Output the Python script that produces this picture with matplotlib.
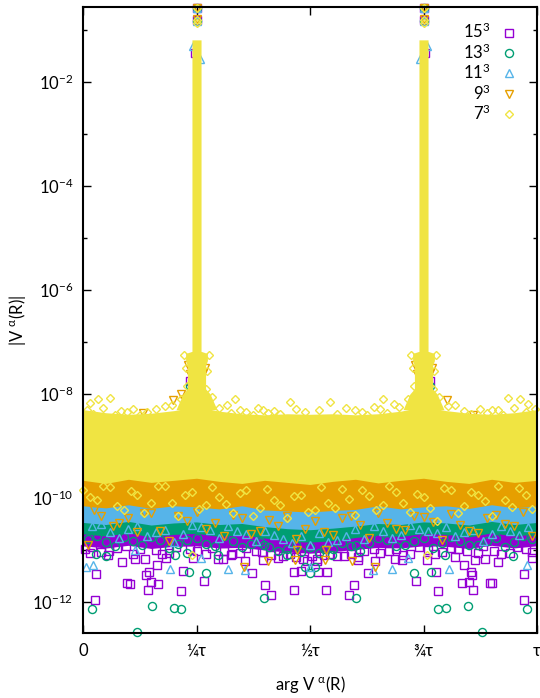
import numpy as np
import matplotlib
matplotlib.use("Agg")
import matplotlib.pyplot as plt
from matplotlib.ticker import NullFormatter

plt.rcParams["font.family"] = ["Lato", "DejaVu Sans"]
plt.rcParams["mathtext.fontset"] = "custom"
plt.rcParams["mathtext.rm"] = "Lato"
plt.rcParams["mathtext.it"] = "Lato:italic"
plt.rcParams["mathtext.bf"] = "Lato:bold"
plt.rcParams["mathtext.default"] = "regular"

TAU = 2 * np.pi

# ---- series ---------------------------------------------------------------
labels = [r"$15^3$", r"$13^3$", r"$11^3$", r"$9^3$", r"$7^3$"]
colors = ["#9400D3", "#009E73", "#56B4E9", "#E69F00", "#F0E442"]
markers = ["s", "o", "^", "v", "D"]

# dense cores (log10 |V|), sampled along arg V in turns
core_turns = [0.00, 0.05, 0.10, 0.15, 0.20, 0.25, 0.30, 0.35, 0.40, 0.45, 0.50,
              0.55, 0.60, 0.65, 0.70, 0.75, 0.80, 0.85, 0.90, 0.95, 1.00]
core_lo_15 = [-10.92, -10.96, -10.91, -10.97, -10.93, -10.92, -10.96, -10.95, -11.00, -11.04, -11.06,
              -11.03, -10.99, -10.95, -10.96, -10.92, -10.93, -10.97, -10.91, -10.96, -10.92]
core_lo_13 = [-10.69, -10.73, -10.67, -10.75, -10.70, -10.68, -10.74, -10.71, -10.77, -10.83, -10.85,
              -10.82, -10.76, -10.71, -10.74, -10.68, -10.70, -10.75, -10.67, -10.73, -10.69]
core_lo_11 = [-10.47, -10.51, -10.45, -10.52, -10.48, -10.46, -10.51, -10.49, -10.55, -10.59, -10.61,
              -10.58, -10.54, -10.49, -10.51, -10.46, -10.48, -10.52, -10.45, -10.51, -10.47]
core_lo_9 = [-10.15, -10.19, -10.13, -10.20, -10.15, -10.17, -10.21, -10.15, -10.23, -10.25, -10.27,
             -10.24, -10.22, -10.15, -10.21, -10.17, -10.15, -10.20, -10.13, -10.19, -10.15]
core_lo_7 = [-9.66, -9.72, -9.64, -9.70, -9.66, -9.62, -9.68, -9.72, -9.66, -9.70, -9.74,
             -9.68, -9.64, -9.71, -9.66, -9.62, -9.68, -9.72, -9.64, -9.70, -9.66]
core_hi_15 = -10.55
core_hi_13 = -10.30
core_hi_11 = -9.95
core_hi_9 = -9.40
core_hi_7 = [-8.30, -8.36, -8.39, -8.37, -8.32, -8.24, -8.33, -8.38, -8.40, -8.38, -8.39,
             -8.38, -8.40, -8.38, -8.33, -8.24, -8.32, -8.37, -8.39, -8.36, -8.30]

# peak columns at 1/4 and 3/4 turn (7^3 on top)
spike_centers = [0.25, 0.75]
spike_logv = [-1.19, -7.18, -7.22, -7.36, -7.45, -7.90, -8.00, -8.30]
spike_halfwidth = [0.010, 0.010, 0.024, 0.024, 0.020, 0.020, 0.030, 0.045]

# individual points: arg V in turns, log10 |V|
pts_turns_15 = [0.015, 0.027, 0.029, 0.055, 0.086, 0.098, 0.103, 0.114, 0.136, 0.139, 0.143, 0.145,
                0.149, 0.162, 0.165, 0.182, 0.215, 0.220, 0.242, 0.266, 0.297, 0.308, 0.328, 0.357,
                0.372, 0.397, 0.401, 0.413, 0.465, 0.465, 0.480, 0.493, 0.515, 0.518, 0.535, 0.537,
                0.586, 0.598, 0.606, 0.628, 0.643, 0.687, 0.702, 0.733, 0.757, 0.778, 0.783, 0.819,
                0.834, 0.839, 0.850, 0.855, 0.857, 0.858, 0.863, 0.885, 0.896, 0.901, 0.915, 0.972,
                0.972, 0.988,
                0.005, 0.040, 0.075, 0.110, 0.160, 0.190, 0.235, 0.270, 0.310, 0.345, 0.380, 0.415,
                0.440, 0.470, 0.505, 0.530, 0.560, 0.590, 0.620, 0.655, 0.690, 0.720, 0.760, 0.790,
                0.825, 0.870, 0.905, 0.940, 0.975,
                0.020, 0.058, 0.095, 0.125, 0.175, 0.205, 0.250, 0.285, 0.325, 0.360, 0.395, 0.430,
                0.455, 0.485, 0.515, 0.545, 0.575, 0.605, 0.640, 0.675, 0.705, 0.740, 0.775, 0.810,
                0.845, 0.880, 0.920, 0.955, 0.990,
                0.250, 0.250, 0.247, 0.236, 0.750, 0.750, 0.753, 0.764]
pts_logv_15 = [-11.06, -11.97, -11.47, -11.10, -11.24, -11.64, -11.65, -11.18, -11.18, -11.48, -11.76, -11.42,
               -11.61, -11.28, -11.65, -11.15, -11.78, -11.41, -11.16, -11.59, -11.18, -11.18, -11.08, -11.22,
               -11.45, -11.19, -11.67, -11.87, -11.42, -11.77, -11.41, -11.22, -11.22, -11.42, -11.77, -11.42,
               -11.87, -11.67, -11.19, -11.45, -11.22, -11.18, -11.19, -11.59, -11.19, -11.42, -11.79, -11.14,
               -11.64, -11.28, -11.61, -11.42, -11.48, -11.76, -11.19, -11.18, -11.64, -11.63, -11.24, -11.47,
               -11.97, -11.16,
               -10.99, -11.04, -10.97, -11.07, -11.00, -11.05, -10.98, -11.07, -11.01, -11.06, -11.02, -11.10,
               -11.12, -11.14, -11.12, -11.10, -11.12, -11.08, -11.02, -11.06, -10.99, -11.07, -11.00, -11.04,
               -10.98, -11.06, -11.01, -11.05, -10.99,
               -10.94, -11.02, -10.92, -10.98, -11.08, -10.94, -11.02, -10.96, -11.10, -10.97, -11.04, -11.16,
               -11.07, -11.18, -11.17, -11.07, -11.12, -11.14, -10.98, -11.02, -11.10, -10.94, -11.08, -10.96,
               -11.02, -10.92, -11.08, -10.95, -11.04,
               -0.57, -0.80, -1.45, -7.75, -0.57, -0.80, -1.45, -7.75]

pts_turns_13 = [0.020, 0.029, 0.051, 0.120, 0.152, 0.200, 0.202, 0.215, 0.228, 0.233, 0.272, 0.297,
                0.399, 0.399, 0.449, 0.489, 0.500, 0.511, 0.548, 0.601, 0.601, 0.728, 0.767, 0.783,
                0.797, 0.799, 0.849, 0.878, 0.948, 0.979,
                0.010, 0.050, 0.090, 0.130, 0.170, 0.210, 0.250, 0.290, 0.330, 0.370, 0.410, 0.450,
                0.480, 0.520, 0.550, 0.590, 0.630, 0.670, 0.710, 0.750, 0.790, 0.830, 0.870, 0.910,
                0.950, 0.990,
                0.030, 0.070, 0.110, 0.150, 0.190, 0.230, 0.270, 0.310, 0.350, 0.390, 0.430, 0.470,
                0.500, 0.530, 0.570, 0.610, 0.650, 0.690, 0.730, 0.770, 0.810, 0.850, 0.890, 0.930,
                0.970,
                0.250, 0.250, 0.236, 0.750, 0.750, 0.764]
pts_logv_13 = [-12.13, -11.08, -11.12, -12.58, -12.07, -12.11, -11.10, -12.14, -11.06, -11.42, -11.44, -11.10,
               -11.93, -10.90, -11.10, -11.32, -11.44, -11.32, -11.10, -11.93, -10.90, -11.44, -11.42, -12.14,
               -11.10, -12.12, -12.07, -12.58, -11.12, -12.13,
               -10.78, -10.85, -10.75, -10.91, -10.81, -10.88, -10.77, -10.93, -10.83, -10.89, -10.95, -10.98,
               -11.03, -11.05, -10.99, -10.93, -10.87, -10.81, -10.91, -10.77, -10.87, -10.82, -10.90, -10.76,
               -10.84, -10.79,
               -10.73, -10.93, -10.83, -10.75, -10.97, -10.81, -10.89, -10.73, -10.95, -10.85, -11.01, -10.91,
               -10.95, -10.99, -10.87, -11.01, -10.77, -10.93, -10.83, -10.97, -10.75, -10.91, -10.83, -10.95,
               -10.73,
               -0.58, -0.82, -7.85, -0.58, -0.82, -7.85]

pts_turns_11 = [0.007, 0.022, 0.114, 0.191, 0.261, 0.319, 0.357, 0.500, 0.639, 0.680, 0.716, 0.807,
                0.977,
                0.020, 0.060, 0.100, 0.140, 0.180, 0.220, 0.260, 0.300, 0.340, 0.380, 0.420, 0.460,
                0.500, 0.540, 0.580, 0.620, 0.660, 0.700, 0.740, 0.780, 0.820, 0.860, 0.900, 0.940,
                0.980,
                0.040, 0.080, 0.120, 0.160, 0.200, 0.240, 0.280, 0.320, 0.360, 0.400, 0.440, 0.480,
                0.520, 0.560, 0.600, 0.640, 0.680, 0.720, 0.760, 0.800, 0.840, 0.880, 0.920, 0.960,
                0.250, 0.250, 0.243, 0.257, 0.234, 0.750, 0.750, 0.757, 0.743, 0.766]
pts_logv_11 = [-11.32, -11.29, -11.00, -11.37, -11.16, -11.37, -11.38, -11.32, -11.38, -11.37, -11.16, -11.37,
               -11.29,
               -10.54, -10.66, -10.59, -10.74, -10.62, -10.70, -10.56, -10.76, -10.64, -10.82, -10.72, -10.86,
               -10.90, -10.84, -10.74, -10.79, -10.64, -10.72, -10.59, -10.68, -10.74, -10.61, -10.70, -10.64,
               -10.56,
               -10.50, -10.76, -10.54, -10.66, -10.84, -10.52, -10.62, -10.54, -10.70, -10.64, -10.78, -10.74,
               -10.68, -10.80, -10.60, -10.54, -10.76, -10.52, -10.64, -10.56, -10.66, -10.82, -10.54, -10.72,
               -0.57, -0.83, -1.30, -1.55, -7.95, -0.57, -0.83, -1.30, -1.55, -7.95]

pts_turns_9 = [0.355, 0.408, 0.467, 0.471, 0.533, 0.535, 0.592, 0.643,
               0.010, 0.040, 0.080, 0.120, 0.150, 0.190, 0.230, 0.270, 0.310, 0.350, 0.390, 0.430,
               0.470, 0.510, 0.550, 0.590, 0.630, 0.670, 0.710, 0.750, 0.790, 0.830, 0.870, 0.910,
               0.950, 0.990,
               0.025, 0.065, 0.100, 0.135, 0.170, 0.210, 0.250, 0.290, 0.330, 0.370, 0.410, 0.450,
               0.490, 0.530, 0.570, 0.610, 0.650, 0.690, 0.730, 0.770, 0.810, 0.850, 0.890, 0.930,
               0.970,
               0.133, 0.199, 0.215, 0.801, 0.860,
               0.250, 0.250, 0.231, 0.269, 0.236, 0.264, 0.750, 0.750, 0.731, 0.769, 0.736, 0.764]
pts_logv_9 = [-11.32, -11.22, -11.19, -11.00, -11.19, -11.00, -11.22, -11.32,
              -10.90, -10.34, -10.49, -10.66, -10.29, -10.82, -10.44, -10.59, -10.74, -10.39, -10.64, -10.54,
              -10.79, -10.44, -10.72, -10.34, -10.76, -10.49, -10.62, -10.37, -10.80, -10.52, -10.68, -10.32,
              -10.54, -10.74,
              -10.24, -10.54, -10.39, -10.29, -10.64, -10.34, -10.26, -10.49, -10.32, -10.70, -10.42, -10.34,
              -10.59, -10.66, -10.39, -10.52, -10.28, -10.60, -10.34, -10.46, -10.30, -10.64, -10.38, -10.50,
              -10.26,
              -8.37, -8.12, -8.00, -8.12, -8.40,
              -0.57, -0.78, -7.45, -7.50, -7.62, -7.60, -0.57, -0.78, -7.45, -7.50, -7.62, -7.60]

pts_turns_7 = [0.000, 0.030, 0.060, 0.090, 0.120, 0.150, 0.180, 0.210, 0.240, 0.270, 0.300, 0.330,
               0.360, 0.390, 0.420, 0.450, 0.480, 0.510, 0.540, 0.570, 0.600, 0.630, 0.660, 0.690,
               0.720, 0.750, 0.780, 0.810, 0.840, 0.870, 0.900, 0.930, 0.960, 0.990,
               0.015, 0.045, 0.075, 0.105, 0.135, 0.165, 0.195, 0.225, 0.255, 0.285, 0.315, 0.345,
               0.375, 0.405, 0.435, 0.465, 0.495, 0.525, 0.555, 0.585, 0.615, 0.645, 0.675, 0.705,
               0.735, 0.765, 0.795, 0.825, 0.855, 0.885, 0.915, 0.945, 0.975,
               0.015, 0.034, 0.059, 0.096, 0.181, 0.317, 0.335, 0.360, 0.397, 0.408, 0.456, 0.544,
               0.600, 0.640, 0.660, 0.685, 0.820, 0.900, 0.937, 0.963, 0.980,
               0.008, 0.022, 0.045, 0.070, 0.083, 0.110, 0.125, 0.140, 0.160, 0.195, 0.300, 0.325,
               0.345, 0.375, 0.385, 0.420, 0.435, 0.470, 0.490, 0.520, 0.560, 0.580, 0.615, 0.625,
               0.655, 0.670, 0.695, 0.805, 0.840, 0.855, 0.875, 0.890, 0.915, 0.925, 0.950, 0.975,
               0.995,
               0.239, 0.757,
               0.250, 0.250, 0.250, 0.222, 0.278, 0.226, 0.274, 0.228, 0.272, 0.215, 0.285,
               0.750, 0.750, 0.750, 0.722, 0.778, 0.726, 0.774, 0.728, 0.772, 0.715, 0.785]
pts_logv_7 = [-9.84, -10.04, -9.79, -10.24, -9.94, -10.09, -9.76, -10.34, -9.89, -10.14, -9.99, -10.29,
              -9.84, -10.19, -10.04, -10.39, -9.94, -10.24, -10.09, -9.82, -10.32, -9.96, -10.14, -9.89,
              -10.26, -9.99, -10.44, -9.84, -10.16, -9.94, -10.34, -10.04, -9.80, -10.22,
              -9.99, -9.77, -10.16, -9.86, -10.29, -9.76, -10.09, -9.94, -10.22, -9.79, -10.12, -9.90,
              -10.34, -9.82, -10.14, -9.96, -10.26, -9.78, -10.19, -10.02, -9.84, -10.24, -9.77, -10.10,
              -9.92, -10.20, -9.80, -10.28, -9.88, -10.06, -9.76, -10.18, -9.94,
              -8.18, -8.10, -8.08, -8.34, -8.23, -8.21, -8.10, -8.34, -8.31, -8.37, -8.15, -8.15,
              -8.30, -8.25, -8.10, -8.20, -8.22, -8.30, -8.08, -8.10, -8.20,
              -8.30, -8.38, -8.26, -8.40, -8.33, -8.28, -8.41, -8.35, -8.29, -8.22, -8.27, -8.36,
              -8.30, -8.40, -8.26, -8.33, -8.39, -8.28, -8.35, -8.31, -8.38, -8.27, -8.34, -8.40,
              -8.29, -8.36, -8.25, -8.24, -8.33, -8.39, -8.28, -8.36, -8.30, -8.41, -8.26, -8.35,
              -8.29,
              -11.10, -11.10,
              -0.57, -0.80, -0.86, -7.25, -7.25, -7.50, -7.55, -7.85, -7.90, -8.10, -8.05,
              -0.57, -0.80, -0.86, -7.25, -7.25, -7.50, -7.55, -7.85, -7.90, -8.10, -8.05]

cores_lo = [core_lo_15, core_lo_13, core_lo_11, core_lo_9, core_lo_7]
cores_hi = [core_hi_15, core_hi_13, core_hi_11, core_hi_9, core_hi_7]
pts_turns = [pts_turns_15, pts_turns_13, pts_turns_11, pts_turns_9, pts_turns_7]
pts_logv = [pts_logv_15, pts_logv_13, pts_logv_11, pts_logv_9, pts_logv_7]
marker_sizes = [5.4, 5.8, 6.4, 6.4, 4.3]

# ---- figure ---------------------------------------------------------------
fig = plt.figure(figsize=(5.4, 6.98), dpi=100)
ax = fig.add_axes([83 / 540, 65 / 698, 454 / 540, 626 / 698])
ax.set_yscale("log")

x_core = TAU * np.asarray(core_turns)
handles = []
for i in range(len(labels)):
    z = 2 + i
    lo = 10.0 ** np.asarray(cores_lo[i])
    hi = 10.0 ** np.asarray(cores_hi[i]) * np.ones_like(lo)
    ax.fill_between(x_core, lo, hi, color=colors[i], lw=0, zorder=z)
    if i == len(labels) - 1:
        hw = np.asarray(spike_halfwidth)
        for c in spike_centers:
            ax.fill_betweenx(10.0 ** np.asarray(spike_logv), TAU * (c - hw), TAU * (c + hw),
                             color=colors[i], lw=0, zorder=z)
    h, = ax.plot(TAU * np.asarray(pts_turns[i]), 10.0 ** np.asarray(pts_logv[i]),
                 ls="none", marker=markers[i], ms=marker_sizes[i], mfc="none",
                 mec=colors[i], mew=1.0, zorder=z + 0.5, clip_on=False, label=labels[i])
    handles.append(h)

ax.set_xlim(0, TAU)
ax.set_ylim(10 ** -12.596, 10 ** -0.558)

ax.set_xticks(TAU * np.array([0, 0.25, 0.5, 0.75, 1.0]),
              labels=["0", "\u00bc\u03c4", "\u00bd\u03c4", "\u00be\u03c4", "\u03c4"])
ax.set_yticks([10.0 ** k for k in (-12, -10, -8, -6, -4, -2)],
              labels=[r"$10^{%d}$" % k for k in (-12, -10, -8, -6, -4, -2)])
ax.set_yticks([10.0 ** k for k in (-11, -9, -7, -5, -3, -1)], minor=True)
ax.yaxis.set_minor_formatter(NullFormatter())
ax.tick_params(which="both", direction="in", top=True, right=True, labelsize=12,
               width=1.0, pad=7)
ax.tick_params(which="major", length=5.5)
ax.tick_params(which="minor", length=3)
for s in ax.spines.values():
    s.set_linewidth(1.5)
    s.set_zorder(10)

ax.set_xlabel(r"arg V $^{\alpha}$(R)", fontsize=12, labelpad=11)
ax.set_ylabel(r"|V $^{\alpha}$(R)|", fontsize=12, labelpad=3)

ax.legend(handles=handles, loc="upper right", bbox_to_anchor=(0.957, 0.976),
          markerfirst=False, frameon=False, fontsize=12, handlelength=1.0,
          handletextpad=0.6, labelspacing=0.06, borderpad=0, borderaxespad=0)

fig.savefig("out.png", dpi=100)
